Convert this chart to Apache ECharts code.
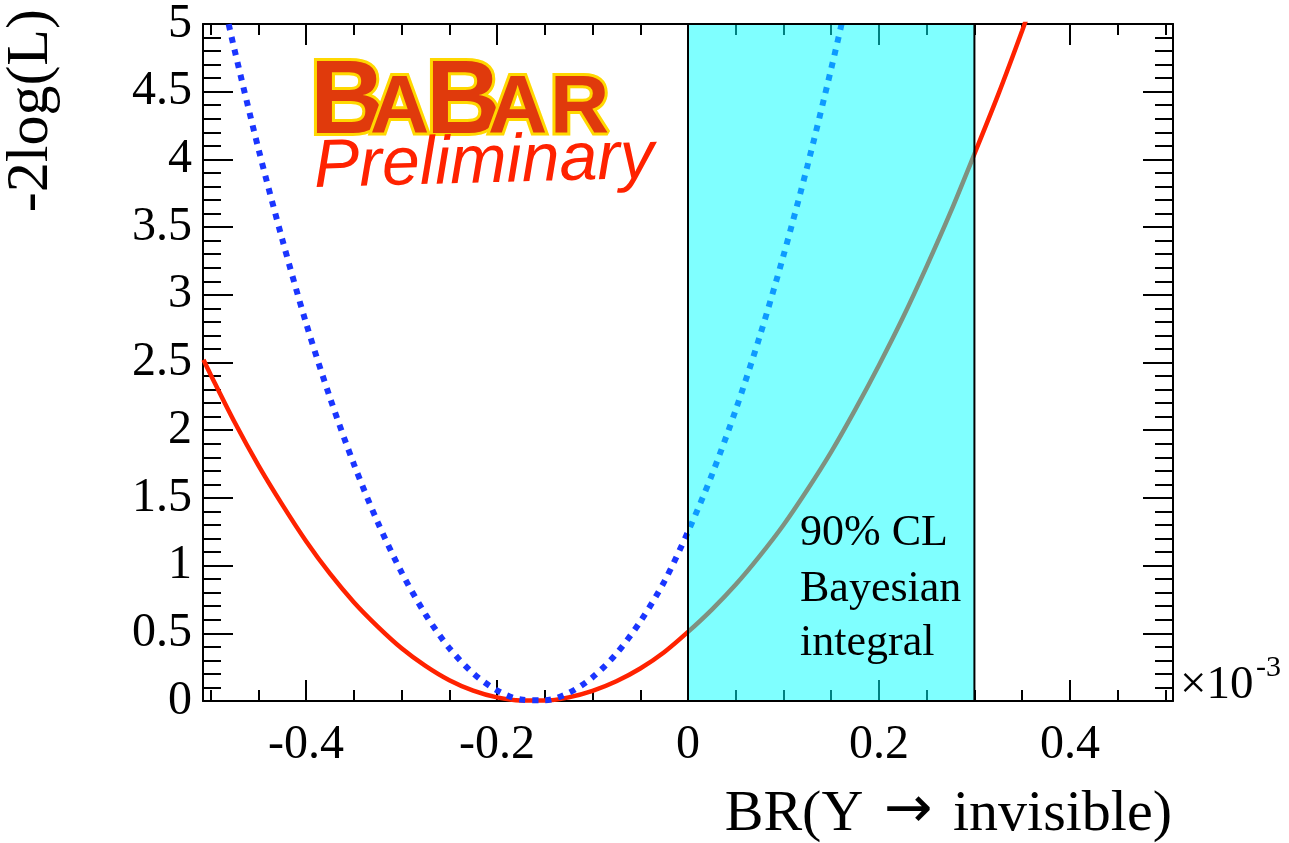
<!DOCTYPE html>
<html>
<head>
<meta charset="utf-8">
<script src="https://cdn.jsdelivr.net/npm/echarts@6/dist/echarts.min.js"></script>
<style>
  html, body { margin: 0; padding: 0; background: #ffffff; }
  #chart { width: 1289px; height: 843px; }
</style>
</head>
<body>
<div id="chart"></div>
<script>
// Branching-ratio scan points (units of 1e-3) and -2log(L) for the full likelihood (solid)
const brFull = [-0.5075, -0.5, -0.475, -0.45, -0.425, -0.4, -0.375, -0.35, -0.325, -0.3, -0.275,
  -0.25, -0.225, -0.2, -0.175, -0.15, -0.125, -0.1, -0.075, -0.05, -0.025, 0, 0.025, 0.05,
  0.075, 0.1, 0.125, 0.15, 0.175, 0.2, 0.225, 0.25, 0.275, 0.3, 0.325, 0.35, 0.375];
const nllFull = [2.52, 2.41, 2.06, 1.74, 1.45, 1.18, 0.94, 0.73, 0.55, 0.39, 0.26,
  0.154, 0.077, 0.027, 0.004, 0.003, 0.027, 0.075, 0.146, 0.24, 0.36, 0.51, 0.675, 0.86,
  1.07, 1.30, 1.56, 1.84, 2.15, 2.48, 2.83, 3.21, 3.61, 4.04, 4.48, 4.95, 5.44];

// Statistical-only likelihood (dotted)
const brStat = [-0.49, -0.475, -0.45, -0.425, -0.4, -0.375, -0.35, -0.325, -0.3, -0.275, -0.25,
  -0.225, -0.2, -0.175, -0.15, -0.125, -0.1, -0.075, -0.05, -0.025, 0, 0.025, 0.05, 0.075,
  0.1, 0.125, 0.15, 0.17];
const nllStat = [5.28, 4.81, 4.08, 3.41, 2.79, 2.24, 1.75, 1.32, 0.95, 0.64, 0.39,
  0.205, 0.078, 0.011, 0.005, 0.059, 0.175, 0.35, 0.587, 0.88, 1.25, 1.67, 2.15, 2.69,
  3.29, 3.95, 4.67, 5.28];

// 90% CL Bayesian integration region
const clBand = [0, 0.3];

// Tick and label positions
const xMajorTicks = [-0.4, -0.2, 0, 0.2, 0.4];
const xMinorTicks = [-0.5, -0.45, -0.35, -0.3, -0.25, -0.15, -0.1, -0.05, 0.05, 0.1, 0.15,
  0.25, 0.3, 0.35, 0.45, 0.5];
const yRange = [0, 5];
const yMajorStep = 0.5;

const xRange = [-0.508, 0.508];
const serif = '"Liberation Serif", "Times New Roman", serif';
const logoFont = '"Liberation Sans", Arial, sans-serif';
const black = '#000000';

function xAxisDef(position, ticks, len, showLine, showLabels) {
  return {
    type: 'value', position: position, min: xRange[0], max: xRange[1],
    axisLine: { show: showLine, onZero: false, lineStyle: { color: black, width: 2 } },
    axisTick: { show: true, inside: true, length: len, customValues: ticks,
      lineStyle: { color: black, width: 2 } },
    axisLabel: { show: showLabels, customValues: ticks, margin: 20,
      fontFamily: serif, fontSize: 48, color: black,
      formatter: v => String(Math.round(v * 10) / 10) },
    splitLine: { show: false }
  };
}

function yAxisDef(position, showLabels) {
  return {
    type: 'value', position: position, min: yRange[0], max: yRange[1], interval: yMajorStep,
    axisLine: { show: true, onZero: false, lineStyle: { color: black, width: 2 } },
    axisTick: { show: true, inside: true, length: 30, lineStyle: { color: black, width: 2 } },
    minorTick: { show: true, splitNumber: 5, length: 18, lineStyle: { color: black, width: 2 } },
    axisLabel: { show: showLabels, margin: 11, fontFamily: serif, fontSize: 48, color: black },
    splitLine: { show: false }, minorSplitLine: { show: false }
  };
}

// one letter of the outlined logo
function logoLetter(ch, x, size) {
  return {
    type: 'text', x: x, y: 132 - 0.27 * size,
    style: { text: ch, font: 'bold ' + size + 'px ' + logoFont, fill: '#e03a0c',
      stroke: '#ffd800', lineWidth: 6, align: 'left', verticalAlign: 'middle', strokeFirst: true }
  };
}

const chart = echarts.init(document.getElementById('chart'), null, { renderer: 'canvas' });

chart.setOption({
  animation: false,
  backgroundColor: '#ffffff',
  grid: { left: 203, right: 116, top: 21, bottom: 142 },
  xAxis: [
    xAxisDef('bottom', xMajorTicks, 21, true, true),
    xAxisDef('bottom', xMinorTicks, 11, false, false),
    xAxisDef('top', xMajorTicks, 21, true, false),
    xAxisDef('top', xMinorTicks, 11, false, false)
  ],
  yAxis: [yAxisDef('left', true), yAxisDef('right', false)],
  series: [
    {
      type: 'line', xAxisIndex: 0, yAxisIndex: 0, z: 2,
      data: brFull.map((x, i) => [x, nllFull[i]]),
      showSymbol: false, smooth: 0.3,
      lineStyle: { color: '#ff2200', width: 4.5 }
    },
    {
      type: 'line', xAxisIndex: 0, yAxisIndex: 0, z: 2,
      data: brStat.map((x, i) => [x, nllStat[i]]),
      showSymbol: false, smooth: 0.3,
      lineStyle: { color: '#1a35ff', width: 6, type: [6, 7], cap: 'butt' }
    },
    {
      // translucent cyan band drawn over the curves
      type: 'custom', xAxisIndex: 0, yAxisIndex: 0, z: 5,
      data: [[clBand[0], clBand[1]]],
      renderItem: function (params, api) {
        const p0 = api.coord([api.value(0), yRange[1]]);
        const p1 = api.coord([api.value(1), yRange[0]]);
        return {
          type: 'rect',
          shape: { x: p0[0], y: p0[1], width: p1[0] - p0[0], height: p1[1] - p0[1] },
          style: { fill: 'rgba(0,255,255,0.5)', stroke: black, lineWidth: 2 }
        };
      },
      silent: true
    }
  ],
  graphic: [
    // axis titles
    { type: 'text', x: 31, y: 9, rotation: Math.PI / 2, z: 10,
      style: { text: '-2log(L)', font: '60px ' + serif, fill: black,
        align: 'right', verticalAlign: 'middle' } },
    { type: 'text', x: 1172, y: 815, z: 10,
      style: {
        text: '{t|BR(Y }{a|\u2192}{t| invisible)}',
        align: 'right', verticalAlign: 'middle', fill: black,
        rich: {
          t: { fontFamily: serif, fontSize: 58, color: black },
          a: { fontFamily: '"DejaVu Sans", sans-serif', fontSize: 58, color: black, padding: [0, 6, 6, 6] }
        }
      } },
    // axis exponent
    { type: 'text', x: 1180, y: 686, z: 10,
      style: { text: '\u00d710', font: '47px ' + serif, fill: black,
        align: 'left', verticalAlign: 'middle' } },
    { type: 'text', x: 1256, y: 668, z: 10,
      style: { text: '-3', font: '30px ' + serif, fill: black,
        align: 'left', verticalAlign: 'middle' } },
    // band annotation
    { type: 'text', x: 800, y: 533, z: 10,
      style: { text: '90% CL', font: '44px ' + serif, fill: black, align: 'left', verticalAlign: 'middle' } },
    { type: 'text', x: 800, y: 589, z: 10,
      style: { text: 'Bayesian', font: '44px ' + serif, fill: black, align: 'left', verticalAlign: 'middle' } },
    { type: 'text', x: 800, y: 643, z: 10,
      style: { text: 'integral', font: '44px ' + serif, fill: black, align: 'left', verticalAlign: 'middle' } },
    // experiment logo
    { type: 'group', z: 10, children: [
      logoLetter('B', 310, 104),
      logoLetter('A', 370, 82),
      logoLetter('B', 426, 104),
      logoLetter('A', 488, 82),
      logoLetter('R', 550, 82)
    ] },
    { type: 'text', x: 314, y: 168, rotation: 0.027, z: 10,
      style: { text: 'Preliminary', font: 'italic 68px ' + logoFont,
        fill: '#ff2200', align: 'left', verticalAlign: 'middle' } }
  ]
});
</script>
</body>
</html>
